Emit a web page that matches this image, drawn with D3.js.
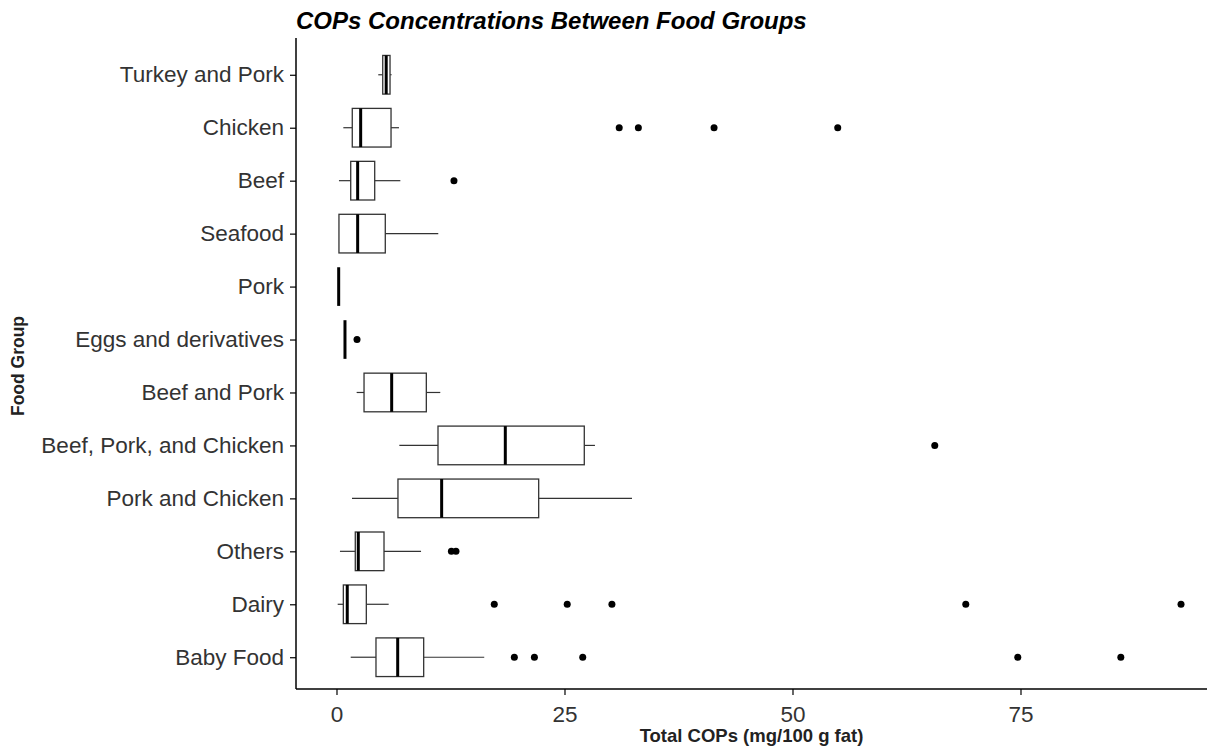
<!DOCTYPE html>
<html>
<head>
<meta charset="utf-8">
<script src="https://cdn.jsdelivr.net/npm/d3@7"></script>
<style>
  body { margin: 0; background: #fff; }
  svg { font-family: "Liberation Sans", Arial, sans-serif; }
</style>
</head>
<body>
<svg id="chart"></svg>
<script>
// food groups, top to bottom
const groups = ["Turkey and Pork", "Chicken", "Beef", "Seafood", "Pork", "Eggs and derivatives",
  "Beef and Pork", "Beef, Pork, and Chicken", "Pork and Chicken", "Others", "Dairy", "Baby Food"];
const whiskerLow  = [4.58, 0.75, 0.27, 0.27, 0.24, 0.93, 2.21, 6.89, 1.70, 0.38, 0.13, 1.56];
const q1          = [5.07, 1.73, 1.56, 0.27, 0.24, 0.93, 3.02, 11.13, 6.74, 2.06, 0.75, 4.33];
const medians     = [5.45, 2.65, 2.32, 2.32, 0.24, 0.93, 6.05, 18.51, 11.53, 2.39, 1.18, 6.71];
const q3          = [5.87, 5.98, 4.19, 5.35, 0.24, 0.93, 9.85, 27.17, 22.17, 5.21, 3.27, 9.56];
const whiskerHigh = [6.05, 6.85, 7.00, 11.16, 0.24, 0.93, 11.38, 28.34, 32.4, 9.27, 5.72, 16.2];
const outliers = [
  [], [31.0, 33.1, 41.4, 54.96], [12.88], [], [], [2.25], [], [65.6], [],
  [12.6, 13.1], [17.3, 25.3, 30.2, 69.0, 92.6], [19.5, 21.7, 27.0, 74.7, 86.0]
];
const xTicks = [0, 25, 50, 75];

const width = 1207, height = 746;
const margin = { top: 43, right: 0, bottom: 57, left: 296 };
const svg = d3.select("#chart").attr("width", width).attr("height", height);

const x = d3.scaleLinear().domain([-4.44, 95.45]).range([margin.left, width - margin.right]);
const y = d3.scalePoint().domain(groups).range([margin.top, height - margin.bottom]).padding(0.6);
const boxH = y.step() * 0.73;

const rows = groups.map((g, i) => ({
  g, lo: whiskerLow[i], q1: q1[i], med: medians[i], q3: q3[i], hi: whiskerHigh[i], out: outliers[i]
}));

const plot = svg.append("g");
const row = plot.selectAll("g.row").data(rows).enter().append("g").attr("class", "row");

// whiskers
row.append("line")
  .attr("x1", d => x(d.lo)).attr("x2", d => x(d.q1))
  .attr("y1", d => y(d.g)).attr("y2", d => y(d.g))
  .attr("stroke", "#333").attr("stroke-width", 1.2);
row.append("line")
  .attr("x1", d => x(d.q3)).attr("x2", d => x(d.hi))
  .attr("y1", d => y(d.g)).attr("y2", d => y(d.g))
  .attr("stroke", "#333").attr("stroke-width", 1.2);

// box
row.append("rect")
  .attr("x", d => x(d.q1)).attr("width", d => x(d.q3) - x(d.q1))
  .attr("y", d => y(d.g) - boxH / 2).attr("height", boxH)
  .attr("fill", "#fff").attr("stroke", "#333").attr("stroke-width", 1.3);

// median
row.append("line")
  .attr("x1", d => x(d.med)).attr("x2", d => x(d.med))
  .attr("y1", d => y(d.g) - boxH / 2).attr("y2", d => y(d.g) + boxH / 2)
  .attr("stroke", "#000").attr("stroke-width", 3);

// outliers
row.selectAll("circle")
  .data(d => d.out.map(v => ({ v, g: d.g })))
  .enter().append("circle")
  .attr("cx", d => x(d.v)).attr("cy", d => y(d.g)).attr("r", 3.5)
  .attr("fill", "#000");

// axes
const xAxis = svg.append("g")
  .attr("transform", `translate(0,${height - margin.bottom})`)
  .call(d3.axisBottom(x).tickValues(xTicks).tickSize(6).tickPadding(11));
const yAxis = svg.append("g")
  .attr("transform", `translate(${margin.left},0)`)
  .call(d3.axisLeft(y).tickSize(6).tickPadding(6));

[xAxis, yAxis].forEach(a => {
  a.select(".domain").remove();
  a.selectAll(".tick line").attr("stroke", "#000").attr("stroke-width", 1.2);
  a.selectAll(".tick text").attr("fill", "#333").attr("font-size", 22.5)
    .attr("font-family", "Liberation Sans, Arial, sans-serif");
});

svg.append("line")
  .attr("x1", margin.left).attr("x2", margin.left)
  .attr("y1", margin.top - 5).attr("y2", height - margin.bottom)
  .attr("stroke", "#000").attr("stroke-width", 1.5);
svg.append("line")
  .attr("x1", margin.left).attr("x2", width)
  .attr("y1", height - margin.bottom).attr("y2", height - margin.bottom)
  .attr("stroke", "#000").attr("stroke-width", 1.5);

// titles
svg.append("text")
  .attr("x", margin.left).attr("y", 29)
  .attr("font-size", 24).attr("font-weight", "bold").attr("font-style", "italic")
  .text("COPs Concentrations Between Food Groups");

svg.append("text")
  .attr("x", (margin.left + width) / 2).attr("y", 742)
  .attr("text-anchor", "middle").attr("font-size", 18.5).attr("font-weight", "bold")
  .attr("fill", "#222")
  .text("Total COPs (mg/100 g fat)");

svg.append("text")
  .attr("transform", `translate(24,${(margin.top + height - margin.bottom) / 2}) rotate(-90)`)
  .attr("text-anchor", "middle").attr("font-size", 17.5).attr("font-weight", "bold")
  .attr("fill", "#222")
  .text("Food Group");
</script>
</body>
</html>
